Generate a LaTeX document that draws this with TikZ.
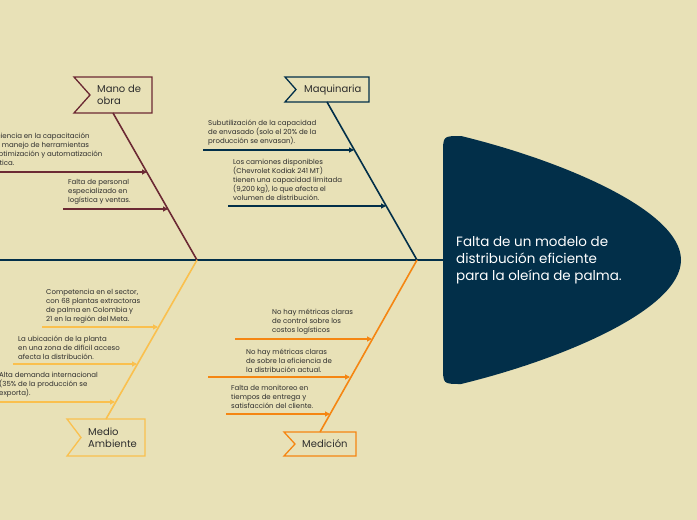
\documentclass[tikz,border=0pt]{standalone}
\usepackage{fontspec}
\setmainfont{Poppins}
\usetikzlibrary{arrows.meta,calc,positioning}
\definecolor{paper}{RGB}{232,225,183}
\definecolor{navy}{RGB}{2,47,73}
\definecolor{maroon}{RGB}{108,42,52}
\definecolor{sun}{RGB}{250,192,78}
\definecolor{tangerine}{RGB}{245,134,18}
\definecolor{ink}{RGB}{45,45,45}

\begin{document}
\begin{tikzpicture}[x=1pt,y=-1pt,
    cause/.style={align=left,anchor=west,inner sep=0pt,text=ink,font=\fontsize{7}{9}\selectfont},
    boxtxt/.style={align=left,anchor=west,inner sep=0pt,text=ink,font=\fontsize{10}{12.5}\selectfont},
    bone/.style={line width=1.6pt},
    tick/.style={line width=1.1pt,-{Triangle[length=5pt,width=5pt]}},
    flag/.style={line width=1.3pt,fill=paper}]
    \fill[paper] (0,0) rectangle (697,520);
    \useasboundingbox (0,0) rectangle (697,520);

    % spine and head
    \coordinate (tail) at (0,260);
    \coordinate (headleft) at (443,260);
    \draw[navy,line width=2.2pt] (tail) -- (headleft);
    \fill[navy] (443,154) .. controls (443,136) .. (461,136)
        .. controls (560,160) and (681,210) .. (681,260)
        .. controls (681,310) and (560,360) .. (461,384)
        .. controls (443,384) .. (443,366) -- cycle;
    \node[align=left,anchor=west,inner sep=0pt,text=white,font=\fontsize{13.5}{17}\selectfont] (problem) at (456,260)
        {Falta de un modelo de\\distribución eficiente\\para la oleína de palma.};

    \coordinate (leftjoint) at (197,260);
    \coordinate (rightjoint) at (417,260);

    % Mano de obra
    \draw[flag,draw=maroon] (74,77) -- (152,77) -- (152,113) -- (74,113) -- (90,95) -- cycle;
    \node[boxtxt] (manoobra) at (97,95) {Mano de\\obra};
    \coordinate (manotop) at (113,113);
    \draw[bone,maroon] (manotop) -- (leftjoint);
    \coordinate (mo1s) at (-5,172);
    \coordinate (mo1e) at (147,172);
    \coordinate (mo2s) at (63,209);
    \coordinate (mo2e) at (168,209);
    \draw[tick,maroon] (mo1s) -- (mo1e);
    \draw[tick,maroon] (mo2s) -- (mo2e);
    \node[cause] (capacitacion) at (-17,150.5) {Deficiencia en la capacitación\\para manejo de herramientas\\de optimización y automatización\\logística.};
    \node[cause] (personal) at (68,192) {Falta de personal\\especializado en\\logística y ventas.};

    % Maquinaria
    \draw[flag,draw=navy] (285,77) -- (369,77) -- (369,102) -- (285,102) -- (296,89.5) -- cycle;
    \node[boxtxt] (maquinaria) at (304,89.5) {Maquinaria};
    \coordinate (maqtop) at (327,102);
    \draw[bone,navy] (maqtop) -- (rightjoint);
    \coordinate (mq1s) at (203,150);
    \coordinate (mq1e) at (354,150);
    \coordinate (mq2s) at (228,206);
    \coordinate (mq2e) at (386,206);
    \draw[tick,navy] (mq1s) -- (mq1e);
    \draw[tick,navy] (mq2s) -- (mq2e);
    \node[cause] (envasado) at (208,133) {Subutilización de la capacidad\\de envasado (solo el 20\% de la\\producción se envasan).};
    \node[cause] (camiones) at (233,180) {Los camiones disponibles\\(Chevrolet Kodiak 241 MT)\\tienen una capacidad limitada\\(9,200 kg), lo que afecta el\\volumen de distribución.};

    % Medio Ambiente
    \draw[flag,draw=sun] (67,419) -- (145,419) -- (145,456) -- (67,456) -- (81,437.5) -- cycle;
    \node[boxtxt] (medioamb) at (88,437.5) {Medio\\Ambiente};
    \coordinate (mediobot) at (106,419);
    \draw[bone,sun] (mediobot) -- (leftjoint);
    \coordinate (ma1s) at (42,327);
    \coordinate (ma1e) at (158,327);
    \coordinate (ma2s) at (13,364);
    \coordinate (ma2e) at (137,364);
    \coordinate (ma3s) at (-5,402);
    \coordinate (ma3e) at (115,402);
    \draw[tick,sun] (ma1s) -- (ma1e);
    \draw[tick,sun] (ma2s) -- (ma2e);
    \draw[tick,sun] (ma3s) -- (ma3e);
    \node[cause] (competencia) at (46,306.5) {Competencia en el sector,\\con 68 plantas extractoras\\de palma en Colombia y\\21 en la región del Meta.};
    \node[cause] (ubicacion) at (18,348) {La ubicación de la planta\\en una zona de difícil acceso\\afecta la distribución.};
    \node[cause] (demanda) at (-1,385) {Alta demanda internacional\\(35\% de la producción se\\exporta).};

    % Medición
    \draw[flag,draw=tangerine] (284,432) -- (356,432) -- (356,456) -- (284,456) -- (295,444) -- cycle;
    \node[boxtxt] (medicion) at (302,444) {Medición};
    \coordinate (medbot) at (320,432);
    \draw[bone,tangerine] (medbot) -- (rightjoint);
    \coordinate (me1s) at (235,339);
    \coordinate (me1e) at (372,339);
    \coordinate (me2s) at (208,377);
    \coordinate (me2e) at (350,377);
    \coordinate (me3s) at (226,414);
    \coordinate (me3e) at (330,414);
    \draw[tick,tangerine] (me1s) -- (me1e);
    \draw[tick,tangerine] (me2s) -- (me2e);
    \draw[tick,tangerine] (me3s) -- (me3e);
    \node[cause] (costos) at (272,322) {No hay métricas claras\\de control sobre los\\costos logísticos};
    \node[cause] (eficiencia) at (246,360.5) {No hay métricas claras\\de sobre la eficiencia de\\la distribución actual.};
    \node[cause] (monitoreo) at (231,397) {Falta de monitoreo en\\tiempos de entrega y\\satisfacción del cliente.};
\end{tikzpicture}
\end{document}
